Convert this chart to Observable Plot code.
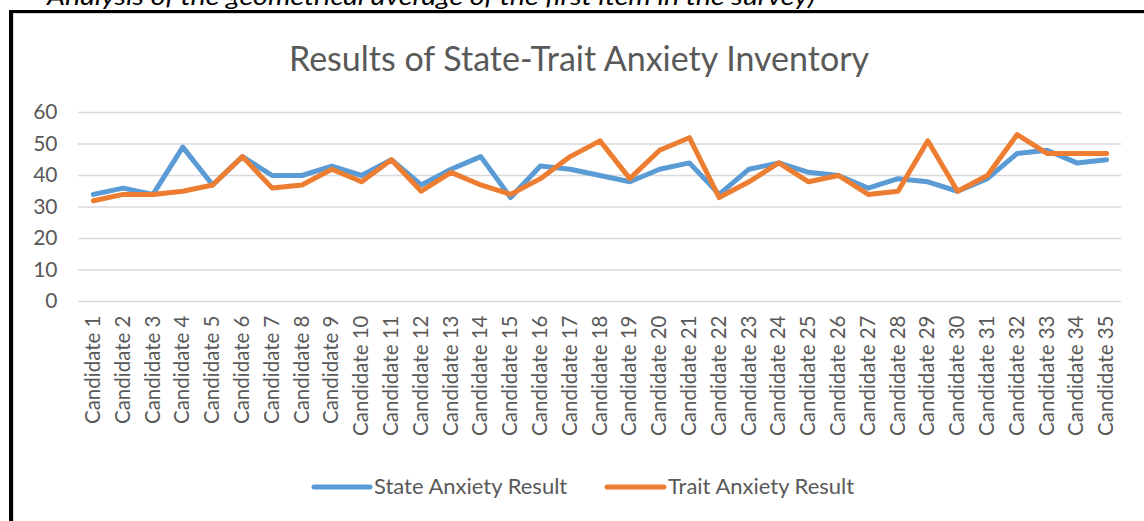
<!DOCTYPE html>
<html>
<head>
<meta charset="utf-8">
<script src="https://cdn.jsdelivr.net/npm/d3@7"></script>
<script src="https://cdn.jsdelivr.net/npm/@observablehq/plot@0.6"></script>
<style>
  html, body { margin:0; padding:0; background:#fff; }
  #page { position:relative; width:1144px; height:521px; overflow:hidden; font-family:Lato, "Open Sans", sans-serif; }
  #frame { position:absolute; left:9px; top:10px; width:2000px; height:1000px; border-left:4px solid #000; border-top:3px solid #000; }
  #inner { position:absolute; left:13px; top:13px; width:2000px; height:1000px; border-left:1px solid #d4d4d4; border-top:1px solid #d4d4d4; }
  #chart { position:absolute; left:0; top:0; }
  #overlay { position:absolute; left:0; top:0; pointer-events:none; }
</style>
</head>
<body>
<div id="page">
  <div id="frame"></div>
  <div id="inner"></div>
  <div id="chart"></div>
  <svg id="overlay" width="1144" height="521"></svg>
</div>
<script>
const candidates = ["Candidate 1","Candidate 2","Candidate 3","Candidate 4","Candidate 5","Candidate 6","Candidate 7","Candidate 8","Candidate 9","Candidate 10","Candidate 11","Candidate 12","Candidate 13","Candidate 14","Candidate 15","Candidate 16","Candidate 17","Candidate 18","Candidate 19","Candidate 20","Candidate 21","Candidate 22","Candidate 23","Candidate 24","Candidate 25","Candidate 26","Candidate 27","Candidate 28","Candidate 29","Candidate 30","Candidate 31","Candidate 32","Candidate 33","Candidate 34","Candidate 35"];
const stateAnxiety = [34,36,34,49,37,46,40,40,43,40,45,37,42,46,33,43,42,40,38,42,44,34,42,44,41,40,36,39,38,35,39,47,48,44,45];
const traitAnxiety = [32,34,34,35,37,46,36,37,42,38,45,35,41,37,34,39,46,51,39,48,52,33,38,44,38,40,34,35,51,35,40,53,47,47,47];
const yTicks = [0,10,20,30,40,50,60];
const seriesNames = ["State Anxiety Result","Trait Anxiety Result"];
const seriesColors = ["#5B9BD5","#ED7D31"];
const titleText = "Results of State-Trait Anxiety Inventory";
const captionText = "Analysis of the geometrical average of the first item in the survey)";

const rows = candidates.map((c, i) => ({candidate:c, state:stateAnxiety[i], trait:traitAnxiety[i]}));

const chart = Plot.plot({
  width:1144, height:450,
  marginTop:112, marginBottom:149, marginLeft:78, marginRight:23,
  style:{fontFamily:"Lato, 'Open Sans', sans-serif", background:"transparent", overflow:"visible", color:"#595959"},
  x:{type:"point", domain:candidates, padding:0.5, round:false},
  y:{domain:[0,60]},
  marks:[
    Plot.gridY(yTicks, {stroke:"#d9d9d9", strokeOpacity:1, strokeWidth:1.6}),
    Plot.axisY(yTicks, {tickSize:0, tickPadding:21, fontSize:21, fill:"#595959", label:null}),
    Plot.axisX({tickRotate:-90, tickSize:0, tickPadding:14, fontSize:20.5, fill:"#595959", label:null}),
    Plot.line(rows, {x:"candidate", y:"state", stroke:seriesColors[0], strokeWidth:5, strokeLinejoin:"round", strokeLinecap:"round"}),
    Plot.line(rows, {x:"candidate", y:"trait", stroke:seriesColors[1], strokeWidth:5, strokeLinejoin:"round", strokeLinecap:"round"})
  ]
});
document.getElementById("chart").appendChild(chart);

const ov = d3.select("#overlay");
ov.append("text").attr("x", 47).attr("y", 5).attr("font-size", 24).attr("font-style", "italic")
  .attr("font-family", "Lato, sans-serif").attr("fill", "#000")
  .attr("textLength", 768).attr("lengthAdjust", "spacingAndGlyphs").text(captionText);
ov.append("text").attr("x", 579).attr("y", 71).attr("text-anchor", "middle").attr("font-size", 34)
  .attr("font-family", "Lato, sans-serif").attr("fill", "#595959").text(titleText);
const legendItems = [{x1:314, x2:370, tx:374}, {x1:607, x2:664, tx:668}];
legendItems.forEach((d, i) => {
  ov.append("line").attr("x1", d.x1).attr("x2", d.x2).attr("y1", 487).attr("y2", 487)
    .attr("stroke", seriesColors[i]).attr("stroke-width", 5).attr("stroke-linecap", "round");
  ov.append("text").attr("x", d.tx).attr("y", 494).attr("font-size", 22)
    .attr("font-family", "Lato, sans-serif").attr("fill", "#595959").text(seriesNames[i]);
});
</script>
</body>
</html>
